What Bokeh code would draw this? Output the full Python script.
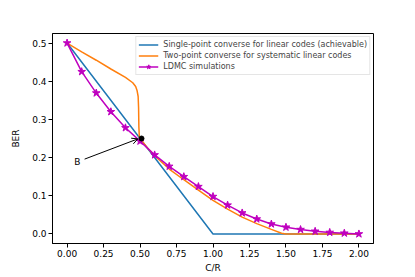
from bokeh.plotting import figure
from bokeh.models import (Range1d, FixedTicker, NumeralTickFormatter, Legend, LegendItem,
                          Arrow, OpenHead, Label)
from bokeh.embed import file_html
from bokeh.resources import INLINE

# Single-point converse for linear codes (achievable)
single_x = [0.0, 1.0, 2.0]
single_y = [0.5, 0.0, 0.0]

# Two-point converse for systematic linear codes
two_x = [0.0, 0.1, 0.2, 0.3, 0.4, 0.45, 0.47, 0.48, 0.487, 0.49, 0.492, 0.495, 0.5,
         0.55, 0.6, 0.7, 0.8, 0.9, 1.0, 1.1, 1.2, 1.3, 1.4, 1.47, 1.5, 2.0]
two_y = [0.5, 0.477, 0.455, 0.432, 0.41, 0.396, 0.386, 0.375, 0.36, 0.33, 0.28, 0.255, 0.25,
         0.226, 0.205, 0.17, 0.142, 0.115, 0.088, 0.065, 0.044, 0.027, 0.012, 0.002, 0.0, 0.0]

# LDMC simulations
ldmc_x = [0.0, 0.1, 0.2, 0.3, 0.4, 0.5, 0.6, 0.7, 0.8, 0.9, 1.0,
          1.1, 1.2, 1.3, 1.4, 1.5, 1.6, 1.7, 1.8, 1.9, 2.0]
ldmc_y = [0.5, 0.425, 0.369, 0.320, 0.278, 0.243, 0.207, 0.177, 0.150, 0.124, 0.098,
          0.0755, 0.055, 0.039, 0.026, 0.0176, 0.0115, 0.007, 0.004, 0.002, 0.0]

# Point B annotation
b_point = (0.51, 0.25)
b_text = (0.07, 0.188)
b_tail = (0.12, 0.196)
b_head = (0.485, 0.249)

x_ticks = [0.0, 0.25, 0.5, 0.75, 1.0, 1.25, 1.5, 1.75, 2.0]
y_ticks = [0.0, 0.1, 0.2, 0.3, 0.4, 0.5]

FONT = "DejaVu Sans"

p = figure(width=415, height=277, output_backend="svg", toolbar_location=None,
           x_range=Range1d(-0.1, 2.1), y_range=Range1d(-0.025, 0.525),
           min_border_left=52, min_border_right=42, min_border_top=33, min_border_bottom=34)
p.grid.visible = False
p.outline_line_color = "black"
p.outline_line_alpha = 1.0
p.outline_line_width = 1
p.background_fill_color = "white"
p.border_fill_color = "white"

p.xaxis.ticker = FixedTicker(ticks=x_ticks)
p.yaxis.ticker = FixedTicker(ticks=y_ticks)
p.xaxis.formatter = NumeralTickFormatter(format="0.00")
p.yaxis.formatter = NumeralTickFormatter(format="0.0")
p.xaxis.axis_label = "C/R"
p.yaxis.axis_label = "BER"
for ax in (p.xaxis, p.yaxis):
    ax.major_tick_in = 0
    ax.major_tick_out = 4
    ax.minor_tick_out = 0
    ax.minor_tick_in = 0
    ax.major_label_text_font = FONT
    ax.major_label_text_font_size = "9px"
    ax.major_label_text_color = "black"
    ax.axis_label_text_font = FONT
    ax.axis_label_text_font_size = "9px"
    ax.axis_label_text_font_style = "normal"
    ax.axis_label_text_color = "black"
    ax.axis_line_color = "black"
    ax.major_tick_line_color = "black"
    ax.major_label_standoff = 2
p.xaxis.axis_label_standoff = 3
p.yaxis.axis_label_standoff = 8

r1 = p.line(single_x, single_y, line_color="#1f77b4", line_width=1.5)
r2 = p.line(two_x, two_y, line_color="#ff7f0e", line_width=1.5)
r3 = p.line(ldmc_x, ldmc_y, line_color="#bf00bf", line_width=1.5)
r3s = p.scatter(ldmc_x, ldmc_y, marker="star", size=8, fill_color="#bf00bf", line_color="#bf00bf")

p.scatter([b_point[0]], [b_point[1]], marker="circle", size=5, fill_color="black", line_color="black")
p.add_layout(Arrow(end=OpenHead(size=6, line_color="black", line_width=1),
                   x_start=b_tail[0], y_start=b_tail[1], x_end=b_head[0], y_end=b_head[1],
                   line_color="black", line_width=1))
p.add_layout(Label(x=b_text[0], y=b_text[1], text="B", text_font=FONT, text_font_size="9px",
                   text_align="center", text_baseline="middle", text_color="black"))

legend = Legend(items=[
    LegendItem(label="Single-point converse for linear codes (achievable)", renderers=[r1]),
    LegendItem(label="Two-point converse for systematic linear codes", renderers=[r2]),
    LegendItem(label="LDMC simulations", renderers=[r3, r3s]),
], location="top_right")
legend.label_text_font = FONT
legend.label_text_font_size = "8px"
legend.label_height = 11
legend.glyph_height = 11
legend.glyph_width = 20
legend.spacing = 0
legend.padding = 2
legend.margin = 3
legend.label_standoff = 5
legend.border_line_color = "#cccccc"
legend.border_line_width = 1
legend.background_fill_alpha = 0.8
p.add_layout(legend)

open("out.html", "w").write(file_html(p, INLINE))
